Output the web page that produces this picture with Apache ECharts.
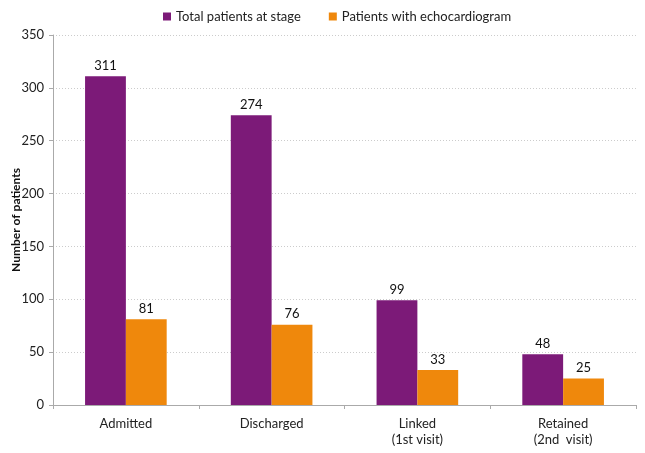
<!DOCTYPE html>
<html><head><meta charset="utf-8">
<script src="https://cdn.jsdelivr.net/npm/echarts@6/dist/echarts.min.js"></script>
<style>html,body{margin:0;padding:0;background:#fff}#c{width:645px;height:453px}</style>
</head><body><div id="c"></div>
<script>
const categories = ['Admitted', 'Discharged', 'Linked\n(1st visit)', 'Retained\n(2nd  visit)'];
const totalPatients = [311, 274, 99, 48];
const echoPatients = [81, 76, 33, 25];
const seriesNames = ['Total patients at stage', 'Patients with echocardiogram'];
const yTicks = {min: 0, max: 350, interval: 50};

const font = 'Lato, "Open Sans", sans-serif';
const chart = echarts.init(document.getElementById('c'), null, {renderer: 'canvas'});
chart.setOption({
  animation: false,
  textStyle: {fontFamily: font},
  legend: {
    top: 5, left: 158, itemWidth: 8, itemHeight: 8, itemGap: 28,
    icon: 'rect',
    textStyle: {fontFamily: font, fontSize: 13, color: '#222'},
    data: seriesNames
  },
  grid: {left: 53, right: 9, top: 35, bottom: 48, outerBoundsMode: 'none', containLabel: false},
  xAxis: {
    type: 'category', data: categories,
    axisLine: {lineStyle: {color: '#aaa'}},
    axisTick: {show: true, length: 4, lineStyle: {color: '#aaa'}},
    axisLabel: {fontFamily: font, fontSize: 13, color: '#222', margin: 11, lineHeight: 16}
  },
  yAxis: {
    type: 'value', min: yTicks.min, max: yTicks.max, interval: yTicks.interval,
    name: 'Number of patients', nameLocation: 'middle', nameGap: 31, nameMoveOverlap: false,
    nameTextStyle: {fontFamily: font, fontSize: 12, fontWeight: 'bold', color: '#111'},
    axisLine: {show: true, lineStyle: {color: '#aaa'}},
    axisTick: {show: true, length: 4, lineStyle: {color: '#aaa'}},
    axisLabel: {fontFamily: font, fontSize: 13, color: '#222', margin: 9},
    splitLine: {lineStyle: {color: '#ccc', type: [1, 2]}}
  },
  series: [
    {
      name: seriesNames[0], type: 'bar', data: totalPatients,
      itemStyle: {color: '#7C1A78'}, barGap: '0%', barCategoryGap: '44%',
      label: {show: true, position: 'top', fontFamily: font, fontSize: 13, color: '#111', distance: 4}
    },
    {
      name: seriesNames[1], type: 'bar', data: echoPatients,
      itemStyle: {color: '#EF880C'},
      label: {show: true, position: 'top', fontFamily: font, fontSize: 13, color: '#111', distance: 4}
    }
  ]
});
</script></body></html>
